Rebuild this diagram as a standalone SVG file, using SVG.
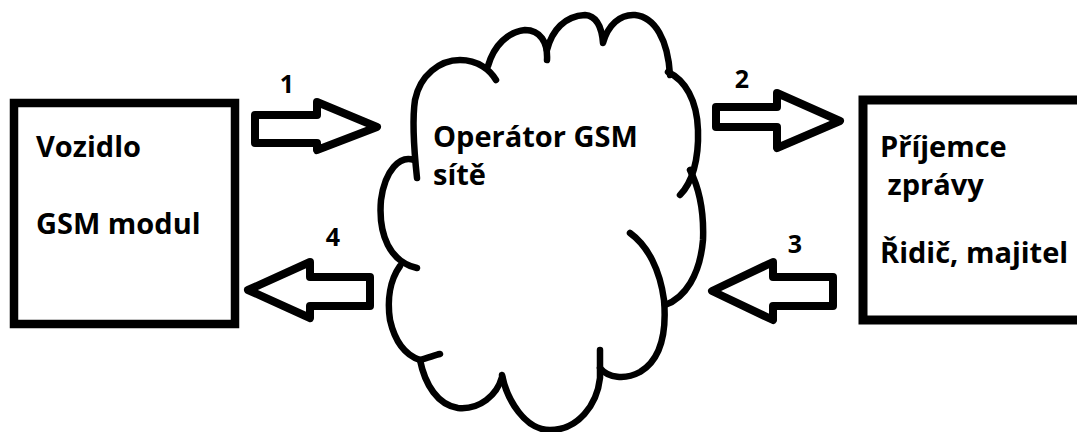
<svg xmlns="http://www.w3.org/2000/svg" width="1077" height="432" viewBox="0 0 1077 432">
<style>
.box{fill:#fff;stroke:#000;stroke-width:8.5}
.arrow{fill:#fff;stroke:#000;stroke-width:8;stroke-linejoin:round}
.cloud{fill:none;stroke:#000;stroke-width:6.5;stroke-linecap:round;stroke-linejoin:round}
.t{font-family:"Open Sans","Liberation Sans",sans-serif;font-weight:700;font-size:29px;fill:#000}
.n{font-family:"Open Sans","Liberation Sans",sans-serif;font-weight:700;font-size:25px;fill:#000;text-anchor:middle}
</style>
<rect width="1077" height="432" fill="#fff"/>
<g id="vozidlo">
<rect class="box" x="14" y="103" width="221" height="221"/>
<text class="t" x="36" y="157">Vozidlo</text>
<text class="t" x="36" y="234">GSM modul</text>
</g>
<g id="operator">
<path class="cloud" d="M417,178 C414,150 412,120 415,100 C420,75 440,60 460,60 C478,60 490,70 496,80"/>
<path class="cloud" d="M488,66 C494,45 508,32 525,30 C540,30 548,42 547,60"/>
<path class="cloud" d="M547,50 C552,30 565,16 585,15 C598,16 602,30 603,43 C608,25 620,14 635,15 C655,17 668,40 670,75"/>
<path class="cloud" d="M668,72 C685,80 697,100 698,130 C699,160 692,183 680,195"/>
<path class="cloud" d="M690,170 C700,190 704,215 703,240 C700,275 685,298 665,305"/>
<path class="cloud" d="M630,233 C648,246 660,270 664,300 C667,335 660,360 640,372 C625,380 608,378 600,368"/>
<path class="cloud" d="M600,350 L600,378 C597,405 578,430 550,430 C525,430 507,400 502,375"/>
<path class="cloud" d="M420,360 C425,385 438,405 458,408 C480,410 497,395 502,377"/>
<path class="cloud" d="M400,266 C390,280 387,300 390,320 C395,342 405,355 420,360 C428,358 435,355 440,354"/>
<path class="cloud" d="M414,160 C400,155 385,170 381,200 C378,235 390,262 417,268"/>
<text class="t" x="433" y="147">Operátor GSM</text>
<text class="t" x="433" y="185">sítě</text>
</g>
<g id="prijemce">
<rect class="box" x="863" y="100" width="240" height="220" style="stroke-width:9"/>
<text class="t" x="880" y="157">Příjemce</text>
<text class="t" x="880" y="195" xml:space="preserve"> zprávy</text>
<text class="t" x="880" y="263">Řidič, majitel</text>
</g>
<g id="connectors">
<polygon class="arrow" points="255,115 317,115 317,102 377,127 317,150 317,143 255,143"/>
<polygon class="arrow" points="716,107 777,107 777,93 840,121 777,148 777,127 716,127"/>
<polygon class="arrow" points="833,277 773,277 773,262 712,291 773,320 773,306 833,306"/>
<polygon class="arrow" points="370,277 310,277 310,262 248,290 310,318 310,306 370,306"/>
<text class="n" x="287" y="93">1</text>
<text class="n" x="742" y="88">2</text>
<text class="n" x="795" y="253">3</text>
<text class="n" x="333" y="246">4</text>
</g>
</svg>
